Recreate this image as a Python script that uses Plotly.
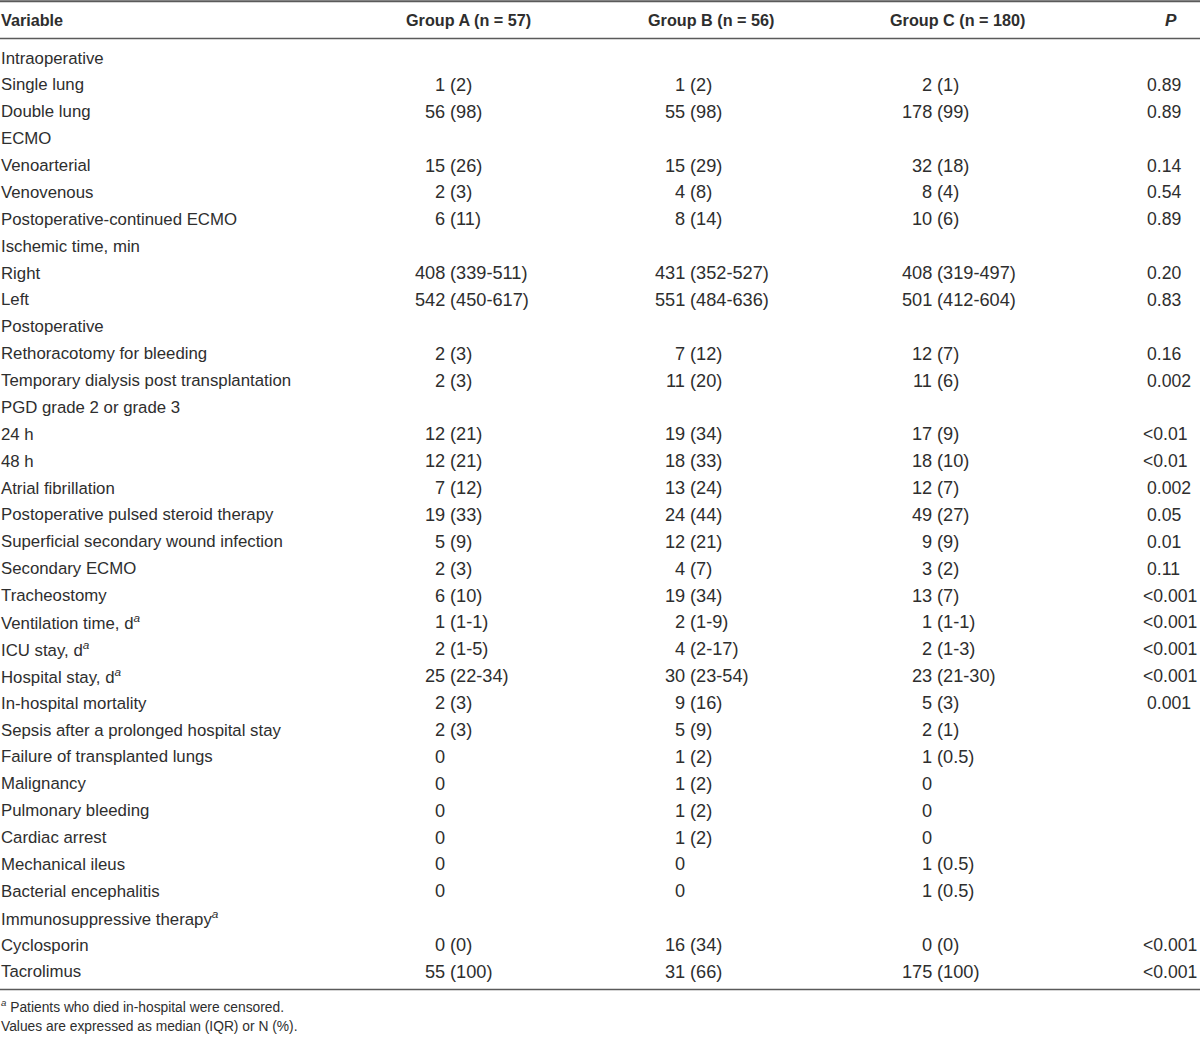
import plotly.graph_objects as go

# ---------------- data ----------------
variables = [
    "Intraoperative", "Single lung", "Double lung", "ECMO", "Venoarterial", "Venovenous",
    "Postoperative-continued ECMO", "Ischemic time, min", "Right", "Left", "Postoperative",
    "Rethoracotomy for bleeding", "Temporary dialysis post transplantation",
    "PGD grade 2 or grade 3", "24 h", "48 h", "Atrial fibrillation",
    "Postoperative pulsed steroid therapy", "Superficial secondary wound infection",
    "Secondary ECMO", "Tracheostomy", "Ventilation time, d<sup><i>a</i></sup>",
    "ICU stay, d<sup><i>a</i></sup>", "Hospital stay, d<sup><i>a</i></sup>",
    "In-hospital mortality", "Sepsis after a prolonged hospital stay",
    "Failure of transplanted lungs", "Malignancy", "Pulmonary bleeding", "Cardiac arrest",
    "Mechanical ileus", "Bacterial encephalitis", "Immunosuppressive therapy<sup><i>a</i></sup>",
    "Cyclosporin", "Tacrolimus",
]
group_a = [
    "", "1 (2)", "56 (98)", "", "15 (26)", "2 (3)", "6 (11)", "", "408 (339-511)",
    "542 (450-617)", "", "2 (3)", "2 (3)", "", "12 (21)", "12 (21)", "7 (12)", "19 (33)",
    "5 (9)", "2 (3)", "6 (10)", "1 (1-1)", "2 (1-5)", "25 (22-34)", "2 (3)", "2 (3)",
    "0", "0", "0", "0", "0", "0", "", "0 (0)", "55 (100)",
]
group_b = [
    "", "1 (2)", "55 (98)", "", "15 (29)", "4 (8)", "8 (14)", "", "431 (352-527)",
    "551 (484-636)", "", "7 (12)", "11 (20)", "", "19 (34)", "18 (33)", "13 (24)", "24 (44)",
    "12 (21)", "4 (7)", "19 (34)", "2 (1-9)", "4 (2-17)", "30 (23-54)", "9 (16)", "5 (9)",
    "1 (2)", "1 (2)", "1 (2)", "1 (2)", "0", "0", "", "16 (34)", "31 (66)",
]
group_c = [
    "", "2 (1)", "178 (99)", "", "32 (18)", "8 (4)", "10 (6)", "", "408 (319-497)",
    "501 (412-604)", "", "12 (7)", "11 (6)", "", "17 (9)", "18 (10)", "12 (7)", "49 (27)",
    "9 (9)", "3 (2)", "13 (7)", "1 (1-1)", "2 (1-3)", "23 (21-30)", "5 (3)", "2 (1)",
    "1 (0.5)", "0", "0", "0", "1 (0.5)", "1 (0.5)", "", "0 (0)", "175 (100)",
]
p_values = [
    "", "0.89", "0.89", "", "0.14", "0.54", "0.89", "", "0.20", "0.83", "", "0.16",
    "0.002", "", "<0.01", "<0.01", "0.002", "0.05", "0.01", "0.11", "<0.001", "<0.001",
    "<0.001", "<0.001", "0.001", "", "", "", "", "", "", "", "", "<0.001", "<0.001",
]
headers = ["Variable", "Group A (n = 57)", "Group B (n = 56)", "Group C (n = 180)", "<i>P</i>"]
footnotes = [
    "<sup><i>a</i></sup> Patients who died in-hospital were censored.",
    "Values are expressed as median (IQR) or N (%).",
]

# ---------------- layout constants ----------------
W, H = 1200, 1039
FONT = "Liberation Sans, Arial, sans-serif"
TXT = "#2e2e2e"
LINE = "#5a5a5a"
FS_LABEL = 16.8
FS_VAL = 18.2
FS_HEAD = 16.2
ROW0, ROWH = 58, 26.88
# (number right edge, parenthesis left edge) for each group column
COLS = [(445, 450), (685, 690), (932, 937)]
PX_PLAIN, PX_LT = 1147, 1143

fig = go.Figure()
fig.add_trace(go.Scatter(x=[0, W], y=[0, H], mode="markers", marker=dict(opacity=0),
                         hoverinfo="skip", showlegend=False))

ann = []


def add(x, y, text, anchor="left", size=FS_VAL, bold=False):
    ann.append(dict(x=x, y=y, xref="x", yref="y", text=f"<b>{text}</b>" if bold else text,
                    showarrow=False, xanchor=anchor, yanchor="middle",
                    borderpad=0, borderwidth=0,
                    font=dict(family=FONT, size=size, color=TXT)))


# header
HY = 20
add(1, HY, headers[0], "left", size=FS_HEAD, bold=True)
add(468, HY, headers[1], "center", size=FS_HEAD, bold=True)
add(711, HY, headers[2], "center", size=FS_HEAD, bold=True)
add(957, HY, headers[3], "center", size=FS_HEAD, bold=True)
add(1171, HY, headers[4], "center", size=FS_HEAD + 1, bold=True)

for i, var in enumerate(variables):
    y = ROW0 + i * ROWH
    add(1, y, var, "left", size=FS_LABEL)
    for (xr, xl), col in zip(COLS, (group_a, group_b, group_c)):
        val = col[i]
        if not val:
            continue
        if " " in val:
            num, rest = val.split(" ", 1)
            add(xr, y, num, "right")
            add(xl, y, rest, "left")
        else:
            add(xr, y, val, "right")
    p = p_values[i]
    if p:
        add(PX_LT if p.startswith("<") else PX_PLAIN, y, p, "left", size=17.6)

add(1, 1006, footnotes[0], "left", size=13.8)
add(1, 1026, footnotes[1], "left", size=13.8)

shapes = [
    dict(type="line", xref="x", yref="y", x0=0, x1=W, y0=1.2, y1=1.2, line=dict(color=LINE, width=2)),
    dict(type="line", xref="x", yref="y", x0=0, x1=W, y0=38.5, y1=38.5, line=dict(color=LINE, width=1.5)),
    dict(type="line", xref="x", yref="y", x0=0, x1=W, y0=989.5, y1=989.5, line=dict(color=LINE, width=1.5)),
]

fig.update_layout(
    width=W, height=H, margin=dict(l=0, r=0, t=0, b=0),
    paper_bgcolor="white", plot_bgcolor="white",
    xaxis=dict(range=[0, W], visible=False, fixedrange=True),
    yaxis=dict(range=[H, 0], visible=False, fixedrange=True),
    annotations=ann, shapes=shapes, showlegend=False,
)
fig.write_html("out.html", config={"displayModeBar": False},
               post_script="document.body.style.margin='0';document.body.style.overflow='hidden';")
